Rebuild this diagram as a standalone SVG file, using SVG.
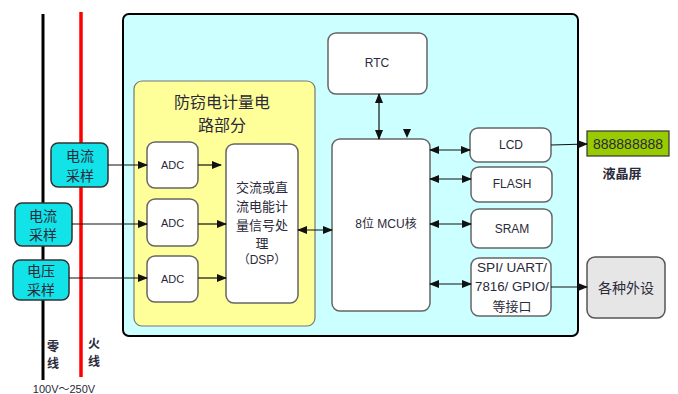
<svg xmlns="http://www.w3.org/2000/svg" width="678" height="394" viewBox="0 0 678 394">
<style>
text{font-family:"Liberation Sans","Noto Sans CJK SC",sans-serif;fill:#2a2a3a;text-anchor:middle;dominant-baseline:central}
.cjk{font-family:"Noto Sans CJK SC",sans-serif}
.box{fill:#fff;stroke:#666;stroke-width:1.5}
.samp{fill:#11E3E8;stroke:#333;stroke-width:1.5}
.con{stroke:#111;stroke-width:1.2;fill:none}
.uni{marker-end:url(#ah)}
.bi{marker-start:url(#ah);marker-end:url(#ah)}
</style>
<defs>
<marker id="ah" markerUnits="userSpaceOnUse" markerWidth="10" markerHeight="8" refX="9" refY="4" orient="auto-start-reverse">
<path d="M0,0 L10,4 L0,8 Z" fill="#111"/>
</marker>
</defs>
<g id="power-lines">
<line x1="43" y1="14" x2="43" y2="380" stroke="#000" stroke-width="3"/>
<line x1="81" y1="12" x2="81" y2="377" stroke="#f00" stroke-width="3.5"/>
<text class="cjk" x="53" y="345" font-size="12" font-weight="bold">零</text>
<text class="cjk" x="53" y="362" font-size="12" font-weight="bold">线</text>
<text class="cjk" x="94" y="342" font-size="12" font-weight="bold">火</text>
<text class="cjk" x="94" y="360" font-size="12" font-weight="bold">线</text>
<text x="64" y="389" font-size="11">100V～250V</text>
</g>
<g id="meter">
<rect x="123" y="14" width="455" height="322" rx="6" fill="#CCFFFF" stroke="#000" stroke-width="2"/>
</g>
<g id="anti-theft">
<rect x="134" y="81" width="181" height="245" rx="8" fill="#FFFF99" stroke="#777" stroke-width="1.2"/>
<text class="cjk" x="222" y="101" font-size="16">防窃电计量电</text>
<text class="cjk" x="222" y="124" font-size="16">路部分</text>
</g>
<g id="adc1"><rect class="box" x="147" y="142" width="51" height="46" rx="8"/><text x="172.5" y="165" font-size="11">ADC</text></g>
<g id="adc2"><rect class="box" x="147" y="199" width="51" height="47" rx="8"/><text x="172.5" y="223" font-size="11">ADC</text></g>
<g id="adc3"><rect class="box" x="147" y="256" width="51" height="46" rx="8"/><text x="172.5" y="279" font-size="11">ADC</text></g>
<g id="dsp">
<rect class="box" x="226" y="144" width="72" height="159" rx="8"/>
<text class="cjk" x="262" y="186" font-size="13">交流或直</text>
<text class="cjk" x="262" y="205" font-size="13">流电能计</text>
<text class="cjk" x="262" y="224" font-size="13">量信号处</text>
<text class="cjk" x="262" y="242" font-size="13">理</text>
<text x="262" y="260" font-size="12">（DSP）</text>
</g>
<g id="rtc"><rect class="box" x="328" y="33" width="99" height="61" rx="8"/><text x="377" y="63" font-size="12">RTC</text></g>
<g id="mcu"><rect class="box" x="332" y="139" width="98" height="172" rx="8"/><text x="386" y="224" font-size="12">8位 MCU核</text></g>
<g id="lcd"><rect class="box" x="470" y="128" width="81" height="34" rx="8"/><text x="511" y="145" font-size="12">LCD</text></g>
<g id="flash"><rect class="box" x="471" y="167" width="81" height="35" rx="8"/><text x="512" y="184" font-size="12">FLASH</text></g>
<g id="sram"><rect class="box" x="471" y="209" width="81" height="39" rx="8"/><text x="512" y="229" font-size="12">SRAM</text></g>
<g id="ports">
<rect class="box" x="471" y="258" width="80" height="58" rx="8"/>
<text x="512" y="268" font-size="12" textLength="70" lengthAdjust="spacingAndGlyphs">SPI/ UART/</text>
<text x="512" y="287" font-size="12" textLength="74" lengthAdjust="spacingAndGlyphs">7816/ GPIO/</text>
<text class="cjk" x="512" y="305" font-size="13">等接口</text>
</g>
<g id="display">
<rect x="587" y="131" width="82" height="25" fill="#99CC00" stroke="#333" stroke-width="1.2"/>
<text x="628" y="144" font-size="14" fill="#111">888888888</text>
<text class="cjk" x="622" y="172" font-size="13" font-weight="bold">液晶屏</text>
</g>
<g id="peripherals"><rect x="587" y="257" width="78" height="61" rx="8" fill="#E6E6E6" stroke="#555" stroke-width="1.5"/><text class="cjk" x="626" y="287" font-size="14">各种外设</text></g>
<g id="sample-i1"><rect class="samp" x="51" y="143" width="57" height="44" rx="7"/><text class="cjk" x="80" y="155" font-size="14">电流</text><text class="cjk" x="80" y="175" font-size="14">采样</text></g>
<g id="sample-i2"><rect class="samp" x="15" y="203" width="57" height="43" rx="7"/><text class="cjk" x="43" y="215" font-size="14">电流</text><text class="cjk" x="43" y="234" font-size="14">采样</text></g>
<g id="sample-v"><rect class="samp" x="13" y="260" width="56" height="40" rx="7"/><text class="cjk" x="41" y="270" font-size="14">电压</text><text class="cjk" x="41" y="289" font-size="14">采样</text></g>
<g id="connectors">
<line class="con uni" x1="108" y1="165" x2="147" y2="165"/>
<line class="con uni" x1="72" y1="224" x2="147" y2="224"/>
<line class="con uni" x1="69" y1="278" x2="147" y2="278"/>
<line class="con uni" x1="198" y1="165" x2="221" y2="165"/>
<line class="con uni" x1="198" y1="224" x2="226" y2="224"/>
<line class="con uni" x1="198" y1="278" x2="226" y2="278"/>
<line class="con bi" x1="298" y1="230" x2="332" y2="230"/>
<line class="con bi" x1="379" y1="94" x2="379" y2="139"/>
<path d="M403,129 L411,129 L407,138 Z" fill="#111"/>
<line class="con bi" x1="430" y1="150" x2="470" y2="150"/>
<line class="con bi" x1="430" y1="179" x2="471" y2="179"/>
<line class="con bi" x1="430" y1="224" x2="471" y2="224"/>
<line class="con bi" x1="430" y1="284" x2="471" y2="284"/>
<line class="con uni" x1="551" y1="145" x2="587" y2="144"/>
<line class="con uni" x1="551" y1="287" x2="587" y2="287"/>
</g>
</svg>
